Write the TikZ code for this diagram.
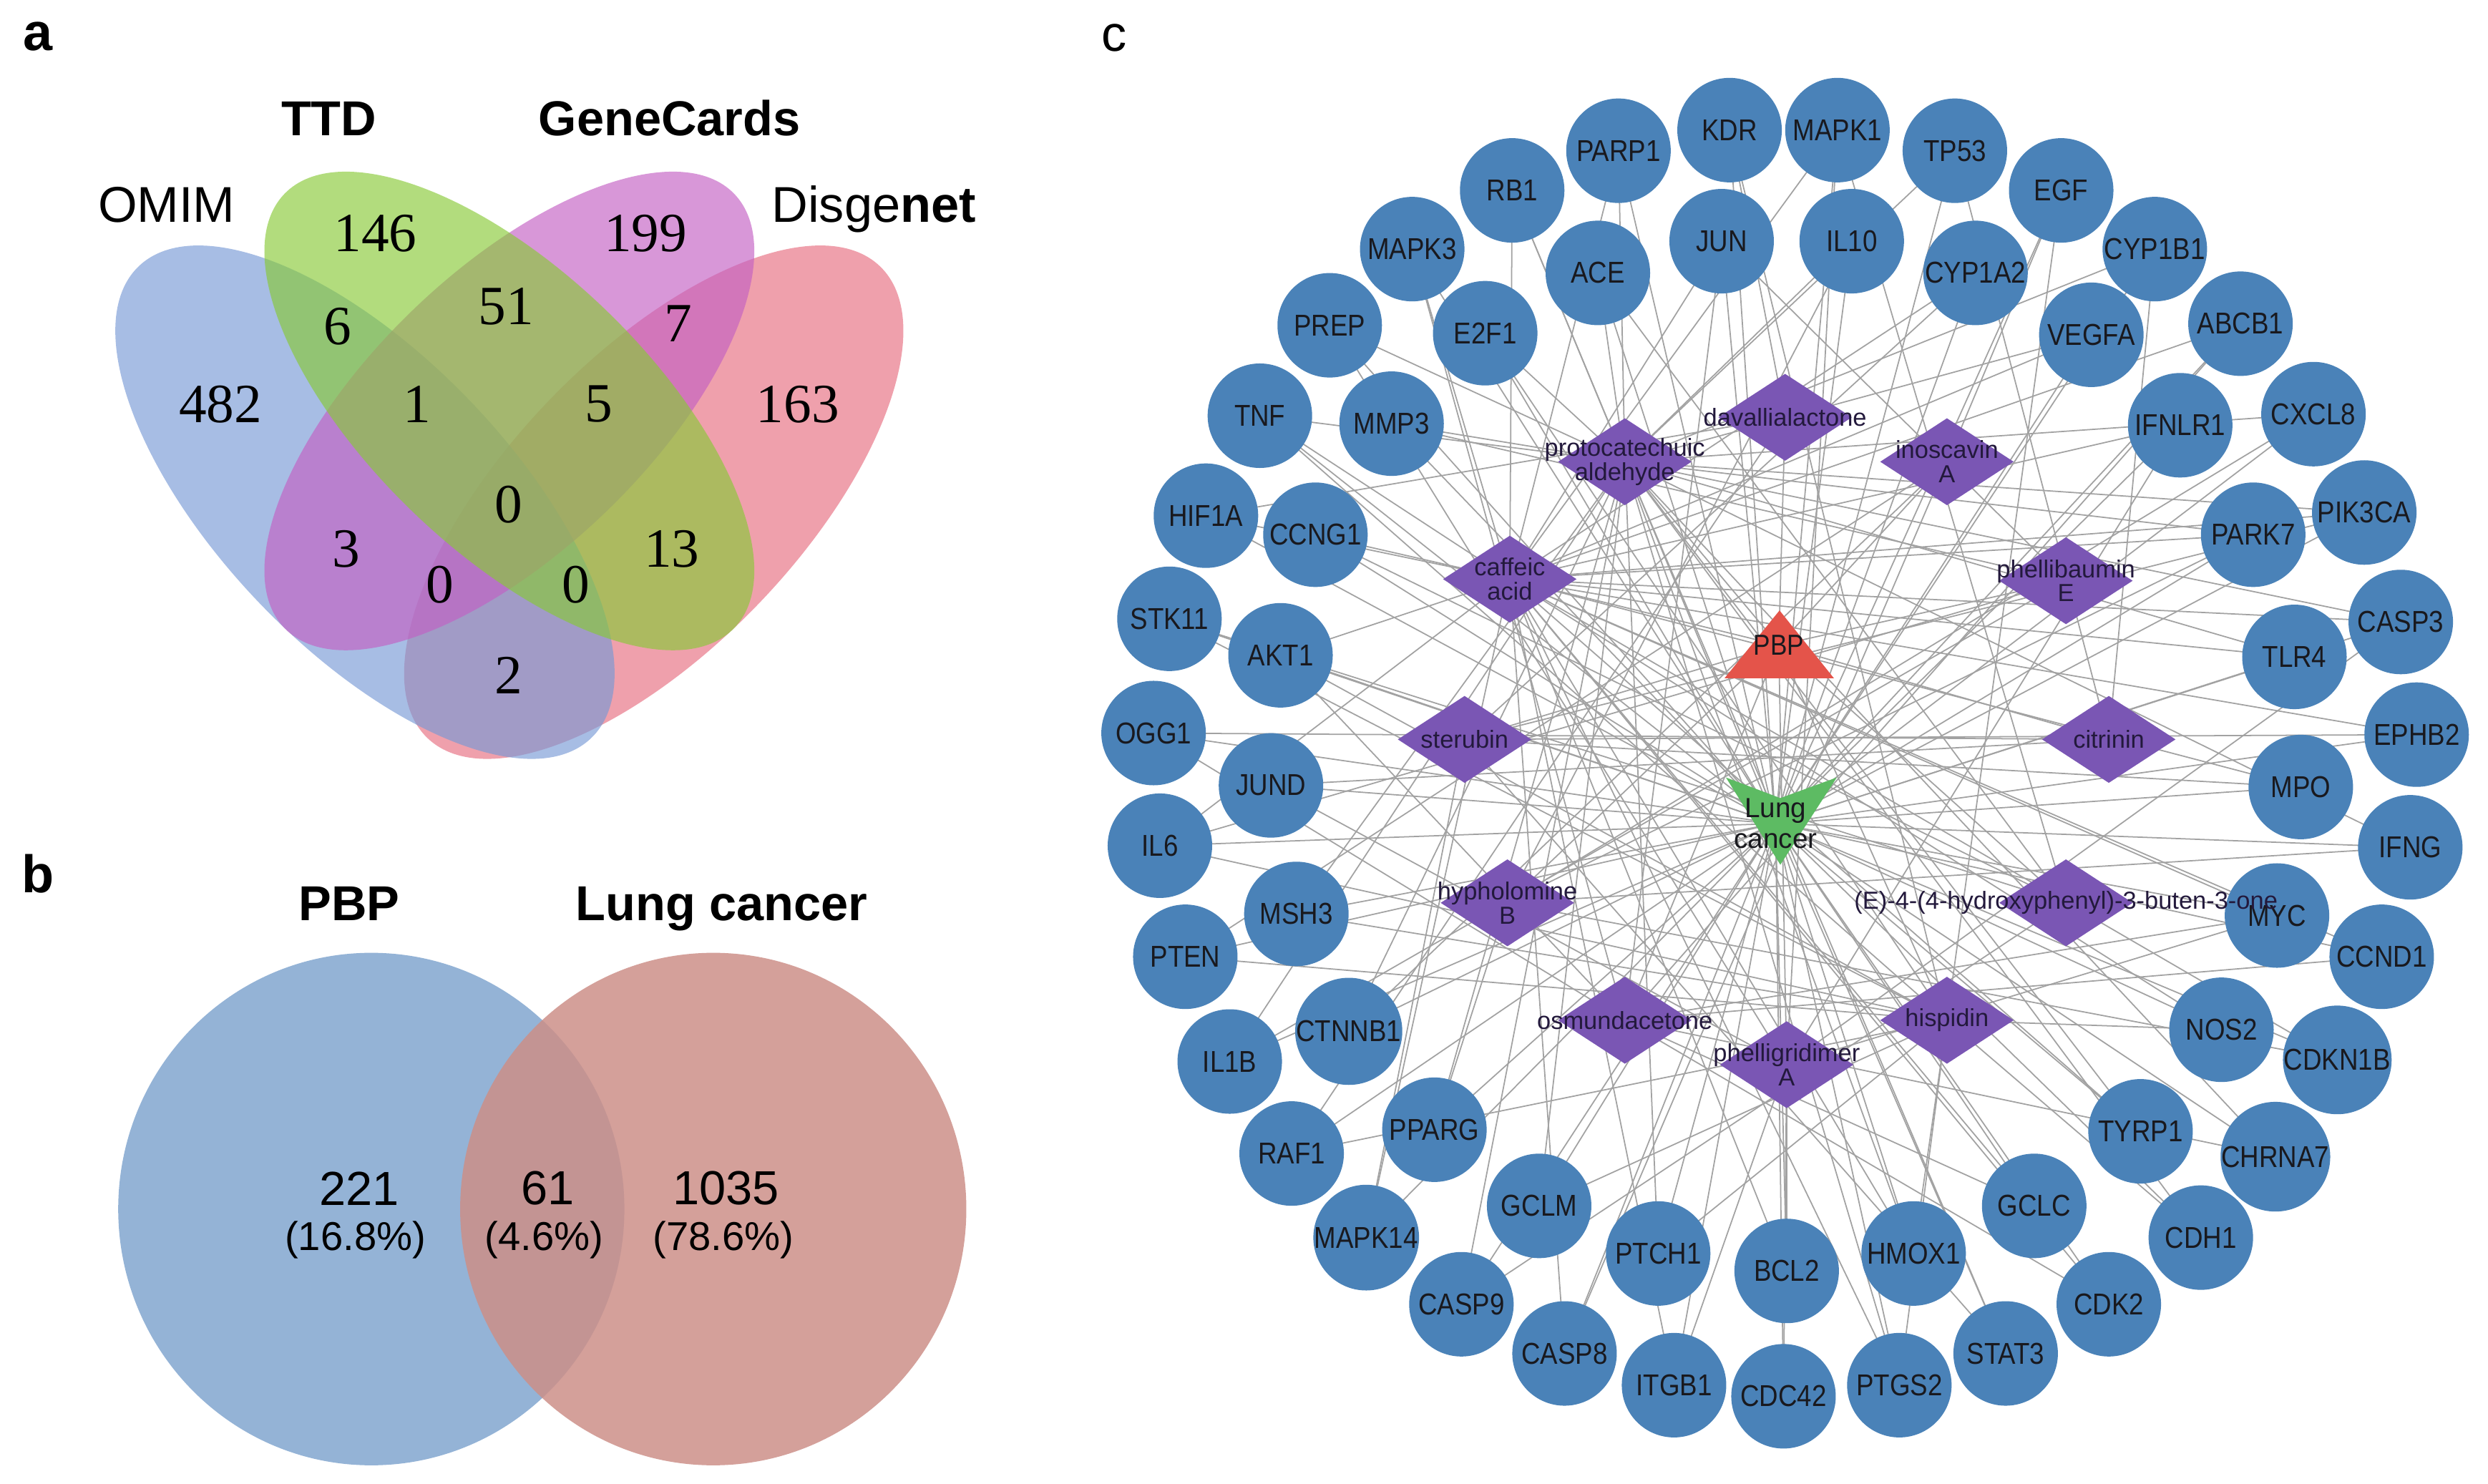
\documentclass[tikz,border=0pt]{standalone}
\usepackage{fontspec}
\setmainfont{Liberation Sans}
\newfontfamily\serifnum{Liberation Serif}
\newfontfamily\narrowsf[FakeStretch=0.87]{Liberation Sans}
\usetikzlibrary{shapes.geometric}
\pgfdeclarelayer{bg}
\pgfsetlayers{bg,main}
\definecolor{vblue}{RGB}{120,153,213}
\definecolor{vgreen}{RGB}{136,201,56}
\definecolor{vmag}{RGB}{195,96,195}
\definecolor{vpink}{RGB}{230,109,127}
\definecolor{bblue}{RGB}{148,179,214}
\definecolor{bpink}{RGB}{204,143,136}
\definecolor{genecol}{RGB}{74,130,184}
\definecolor{compcol}{RGB}{122,86,180}
\definecolor{pbpred}{RGB}{228,84,74}
\definecolor{lcgreen}{RGB}{93,187,99}
\definecolor{edgecol}{RGB}{162,162,162}
\definecolor{txtdark}{RGB}{25,25,30}
\definecolor{comptxt}{RGB}{35,25,60}
\tikzset{
  genenode/.style={circle, fill=genecol, minimum size=1.46cm, inner sep=0pt, text=txtdark,
    font=\narrowsf\fontsize{12}{12}\selectfont},
  compnode/.style={diamond, fill=compcol, minimum width=1.87cm, minimum height=1.22cm, inner sep=0pt},
  complabel/.style={font=\fontsize{9.8}{9.6}\selectfont, align=center, inner sep=0pt, text=comptxt},
  edgeline/.style={draw=edgecol, line width=0.5pt},
  vnum/.style={font=\serifnum\fontsize{22}{22}\selectfont, inner sep=0pt},
  vlab/.style={font=\fontsize{20}{20}\selectfont, inner sep=0pt, anchor=base},
  vlabb/.style={font=\bfseries\fontsize{19.5}{19.5}\selectfont, inner sep=0pt, anchor=base},
  bnum/.style={font=\fontsize{19}{19}\selectfont, inner sep=0pt},
  bpct/.style={font=\fontsize{16}{16}\selectfont, inner sep=0pt},
  panellab/.style={font=\bfseries\fontsize{21}{21}\selectfont, inner sep=0pt}
}
\begin{document}
\begin{tikzpicture}[x=0.022175cm, y=-0.022175cm]
\useasboundingbox (0,0) rectangle (1568,935);

% ---------------- panel a ----------------
\node[panellab] (la) at (23.8,22.8) {a};
\fill[vpink, fill opacity=0.65, rotate around={46.2:(412,316.5)}] (412,316.5) ellipse [x radius=206, y radius=92];
\fill[vblue, fill opacity=0.65, rotate around={-46.2:(230,316.5)}] (230,316.5) ellipse [x radius=206, y radius=92];
\fill[vmag, fill opacity=0.65, rotate around={44:(321,259)}] (321,259) ellipse [x radius=197, y radius=88];
\fill[vgreen, fill opacity=0.65, rotate around={-44:(321,259)}] (321,259) ellipse [x radius=197, y radius=88];
\node[vlabb] (tTTD) at (207.3,85.4) {TTD};
\node[vlabb] (tGC) at (422,85.4) {GeneCards};
\node[vlab] (tOMIM) at (105,140) {OMIM};
\node[vlab] (tDis) at (550.7,140) {Disge{\bfseries net}};
\node[vnum] (n146) at (236.5,147) {146};
\node[vnum] (n199) at (406.8,147) {199};
\node[vnum] (n6) at (212.8,205.6) {6};
\node[vnum] (n51) at (319,193) {51};
\node[vnum] (n7) at (427.6,204) {7};
\node[vnum] (n482) at (139,254.7) {482};
\node[vnum] (n1) at (262.8,254.7) {1};
\node[vnum] (n5) at (377.6,254.7) {5};
\node[vnum] (n163) at (502.7,254.7) {163};
\node[vnum] (n0a) at (320.4,318) {0};
\node[vnum] (n3) at (218,346) {3};
\node[vnum] (n13) at (423.4,345.8) {13};
\node[vnum] (n0b) at (277.4,368.6) {0};
\node[vnum] (n0c) at (363,368.6) {0};
\node[vnum] (n2) at (320.4,425.5) {2};

% ---------------- panel b ----------------
\node[panellab] (lb) at (23.8,550.6) {b};
\fill[bblue] (234,762) ellipse [x radius=159.5, y radius=161.5];
\fill[bpink, fill opacity=0.85] (449.5,762) ellipse [x radius=159.5, y radius=161.5];
\node[vlabb] (tPBP) at (220,580) {PBP};
\node[vlabb] (tLC) at (454.7,580) {Lung cancer};
\node[bnum] (b221) at (226.5,749) {221};
\node[bpct] (b168) at (224,781.4) {(16.8\%)};
\node[bnum] (b61) at (345.4,749) {61};
\node[bpct] (b46) at (343,781.4) {(4.6\%)};
\node[bnum] (b1035) at (457.6,749) {1035};
\node[bpct] (b786) at (456,781.4) {(78.6\%)};

% ---------------- panel c ----------------
\node[font=\fontsize{20}{20}\selectfont, inner sep=0pt] (lc0) at (702,24) {c};

% outer ring
\foreach \n/\x/\y in {PARP1/1020/95, KDR/1090/82, MAPK1/1158/82, TP53/1232/95, RB1/953/120, EGF/1299/120,
  MAPK3/890/157, CYP1B1/1358/157, PREP/838/205, ABCB1/1412/204, TNF/794/262, CXCL8/1458/261,
  HIF1A/760/325, PIK3CA/1490/323, STK11/737/390, CASP3/1513/392, OGG1/727/462, EPHB2/1523/463,
  IL6/731/533, IFNG/1519/534, PTEN/747/603, CCND1/1501/603, IL1B/775/669, CDKN1B/1473/668,
  RAF1/814/727, CHRNA7/1434/729, MAPK14/861/780, CDH1/1387/780, CASP9/921/822, CDK2/1329/822,
  CASP8/986/853, STAT3/1264/853, ITGB1/1055/873, PTGS2/1197/873, CDC42/1124/880}
  {\node[genenode] (\n) at (\x,\y) {\n};}
% inner ring
\foreach \n/\x/\y in {ACE/1007/172, JUN/1085/152, IL10/1167/152, CYP1A2/1245/172, E2F1/936/210,
  VEGFA/1318/211, MMP3/877/267, IFNLR1/1374/268, CCNG1/829/337, PARK7/1420/337, AKT1/807/413,
  TLR4/1446/414, JUND/801/495, MPO/1450/496, MSH3/817/576, MYC/1435/577, CTNNB1/850/650,
  NOS2/1400/649, PPARG/904/712, TYRP1/1349/713, GCLM/970/760, GCLC/1282/760, PTCH1/1045/790,
  HMOX1/1206/790, BCL2/1126/801}
  {\node[genenode] (\n) at (\x,\y) {\n};}

% compounds
\foreach \i/\x/\y in {1/1125/263, 2/1024/291, 3/1227/291, 4/951.5/365, 5/1302/366, 6/923/466,
  7/1329/466, 8/950/569, 9/1302/569, 10/1024/643, 11/1227/643, 12/1126/671}
  {\node[compnode] (d\i) at (\x,\y) {};}
\node[complabel] (d1l) at (d1) {davallialactone};
\node[complabel] (d2l) at (d2) {protocatechuic\\aldehyde};
\node[complabel] (d3l) at (d3) {inoscavin\\A};
\node[complabel] (d4l) at (d4) {caffeic\\acid};
\node[complabel] (d5l) at (d5) {phellibaumin\\E};
\node[complabel] (d6l) at (d6) {sterubin};
\node[complabel] (d7l) at (d7) {citrinin};
\node[complabel] (d8l) at (d8) {hypholomine\\B};
\node[complabel] (d9l) at (d9) {(E)-4-(4-hydroxyphenyl)-3-buten-3-one};
\node[complabel] (d10l) at (d10) {osmundacetone};
\node[complabel] (d11l) at (d11) {hispidin};
\node[complabel] (d12l) at (d12) {phelligridimer\\A};

% PBP and Lung cancer
\fill[pbpred] (1121.5,384.7) -- (1155.8,427.5) -- (1086.8,427.5) -- cycle;
\node[font=\narrowsf\fontsize{11.5}{11.5}\selectfont, inner sep=0pt, text=txtdark] (pbp) at (1121,406.6) {PBP};
\fill[lcgreen] (1087.7,490) -- (1122,503) -- (1157.6,490) -- (1122,545) -- cycle;
\node[font=\fontsize{11}{12.2}\selectfont, align=center, inner sep=0pt, text=txtdark] (lc) at (1119,519) {Lung\\cancer};

% edges
\begin{pgfonlayer}{bg}
\foreach \t/\cs in {PARP1/{2,4}, KDR/{1,11}, MAPK1/{4,12,9}, TP53/{2,7}, RB1/{4,2}, EGF/{3,11},
  MAPK3/{4,10}, CYP1B1/{7,2}, PREP/{2,12}, ABCB1/{4,10}, TNF/{4,2,11}, CXCL8/{2,8},
  HIF1A/{1,4}, PIK3CA/{2,4,6}, STK11/{9,11}, CASP3/{4,2,12}, OGG1/{7,10}, EPHB2/{6,4},
  IL6/{4,5,11}, IFNG/{8,2}, PTEN/{3,11}, CCND1/{4,10}, IL1B/{2,5}, CDKN1B/{4,8},
  RAF1/{1,11}, CHRNA7/{2,10}, MAPK14/{4,6}, CDH1/{11,2}, CASP9/{2,9}, CDK2/{4,10},
  CASP8/{4,3}, STAT3/{2,6}, ITGB1/{4,12}, PTGS2/{2,4,11}, CDC42/{12},
  ACE/{2,9}, JUN/{4,10,5}, IL10/{2,8}, CYP1A2/{4,6}, E2F1/{2,11}, VEGFA/{2,4},
  MMP3/{2,5}, IFNLR1/{4,12}, CCNG1/{4,9}, PARK7/{2,4,8}, AKT1/{4,11,10}, TLR4/{4,2},
  JUND/{7,12}, MPO/{4,6}, MSH3/{2,11}, MYC/{4,10,12}, CTNNB1/{2,3}, NOS2/{4,11},
  PPARG/{2,8}, TYRP1/{4,2}, GCLM/{11,2}, GCLC/{4,10}, PTCH1/{2,11}, HMOX1/{4,2,11}, BCL2/{12,4}}
  {
    \draw[edgeline] (\t.center) -- (lc.center);
    \foreach \c in \cs {\draw[edgeline] (\t.center) -- (d\c.center);}
  }
\foreach \c in {1,...,12} {\draw[edgeline] (pbp.center) -- (d\c.center);}
\end{pgfonlayer}
\end{tikzpicture}
\end{document}
